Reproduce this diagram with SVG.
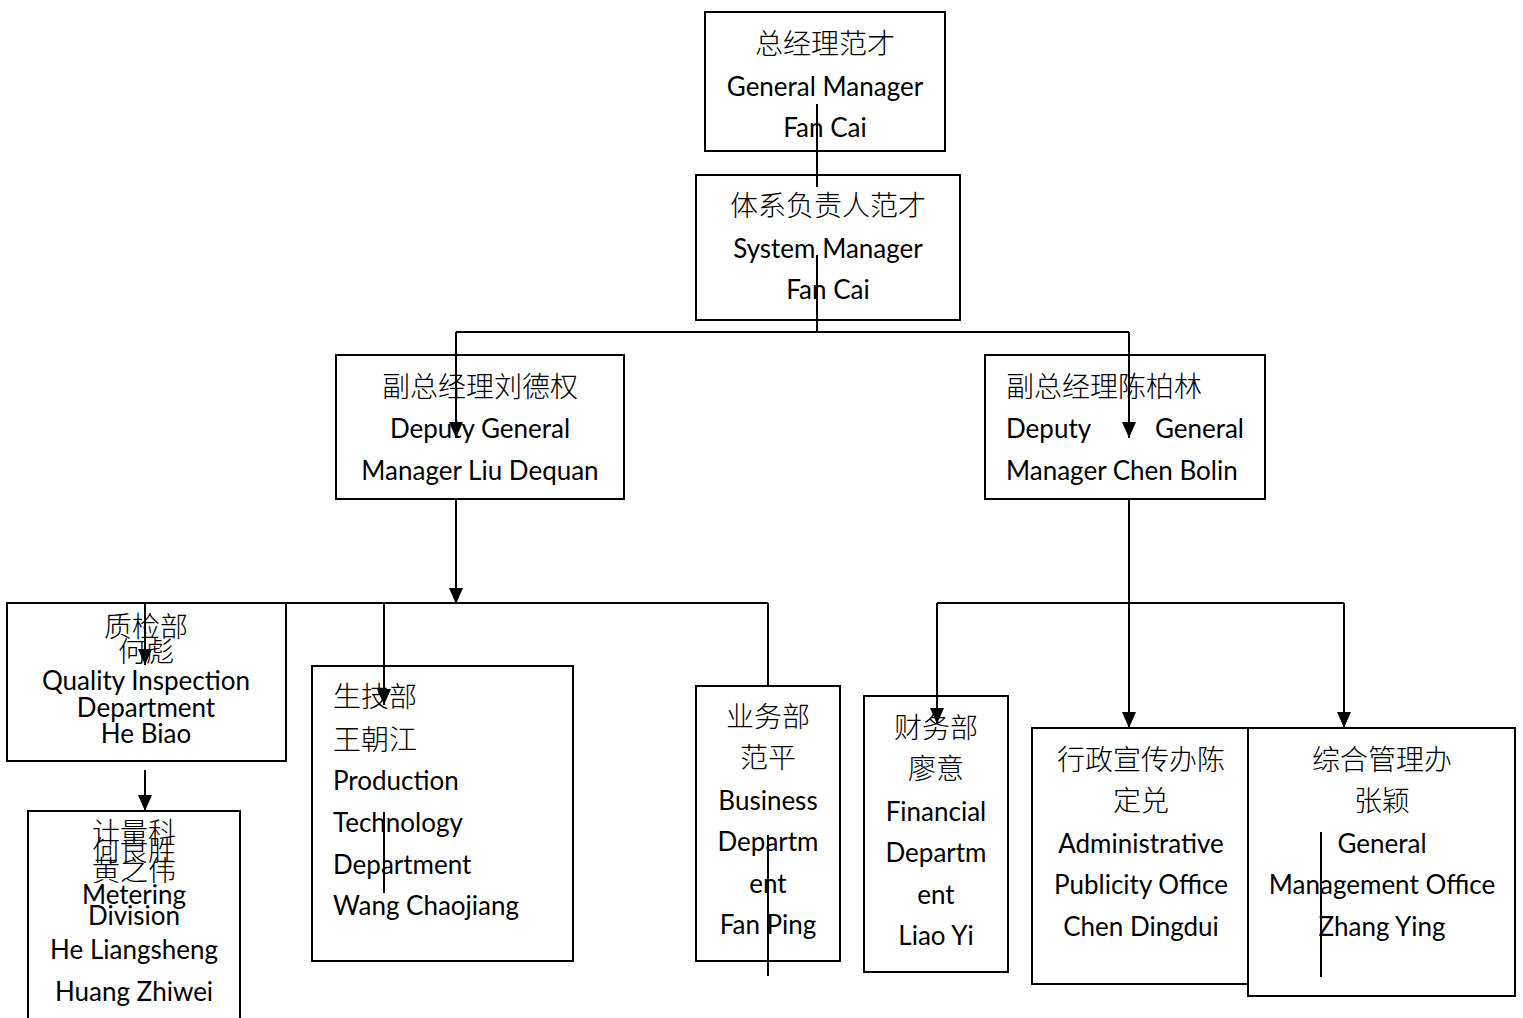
<svg xmlns="http://www.w3.org/2000/svg" width="1523" height="1018" viewBox="0 0 1523 1018">
<style>
rect.box{fill:#fff;stroke:#000;stroke-width:2}
text{font-family:Lato,"Noto Sans CJK SC",sans-serif;font-size:26px;fill:#000}
text.zh{font-family:"Noto Sans CJK SC",sans-serif;font-size:28px;font-weight:300}
text.c{text-anchor:middle}
.conn line{stroke:#000;stroke-width:2}
</style>
<defs>
<marker id="ah" markerUnits="userSpaceOnUse" markerWidth="16" markerHeight="14" refX="16" refY="7" orient="auto">
<path d="M0,0 L16,7 L0,14 z" fill="#000"/>
</marker>
</defs>
<rect width="1523" height="1018" fill="#fff"/>
<g id="gm">
<rect class="box" x="705" y="12" width="240" height="139"/>
<text class="zh c" x="825" y="54">总经理范才</text>
<text class="c" x="825" y="96">General Manager</text>
<text class="c" x="825" y="137">Fan Cai</text>
</g>
<g id="sys">
<rect class="box" x="696" y="175" width="264" height="145"/>
<text class="zh c" x="828" y="216">体系负责人范才</text>
<text class="c" x="828" y="258">System Manager</text>
<text class="c" x="828" y="299">Fan Cai</text>
</g>
<g id="dgm-liu">
<rect class="box" x="336" y="355" width="288" height="144"/>
<text class="zh c" x="480" y="397">副总经理刘德权</text>
<text class="c" x="480" y="438">Deputy General</text>
<text class="c" x="480" y="480">Manager Liu Dequan</text>
</g>
<g id="dgm-chen">
<rect class="box" x="985" y="355" width="280" height="144"/>
<text class="zh" x="1006" y="397">副总经理陈柏林</text>
<text y="438"><tspan x="1006">Deputy</tspan><tspan x="1244" text-anchor="end">General</tspan></text>
<text x="1006" y="480">Manager Chen Bolin</text>
</g>
<g id="quality">
<rect class="box" x="7" y="603" width="279" height="158"/>
<text class="zh c" x="146" y="637">质检部</text>
<text class="zh c" x="146" y="662">何彪</text>
<text class="c" x="146" y="690">Quality Inspection</text>
<text class="c" x="146" y="717">Department</text>
<text class="c" x="146" y="743">He Biao</text>
</g>
<g id="metering">
<rect class="box" x="28" y="811" width="212" height="230"/>
<text class="zh c" x="134" y="843">计量科</text>
<text class="zh c" x="134" y="861">何良胜</text>
<text class="zh c" x="134" y="881">黄之伟</text>
<text class="c" x="134" y="904">Metering</text>
<text class="c" x="134" y="925">Division</text>
<text class="c" x="134" y="959">He Liangsheng</text>
<text class="c" x="134" y="1001">Huang Zhiwei</text>
</g>
<g id="prodtech">
<rect class="box" x="312" y="666" width="261" height="295"/>
<text class="zh" x="333" y="707">生技部</text>
<text class="zh" x="333" y="750">王朝江</text>
<text x="333" y="790">Production</text>
<text x="333" y="832">Technology</text>
<text x="333" y="874">Department</text>
<text x="333" y="915">Wang Chaojiang</text>
</g>
<g id="business">
<rect class="box" x="696" y="686" width="144" height="275"/>
<text class="zh c" x="768" y="727">业务部</text>
<text class="zh c" x="768" y="768">范平</text>
<text class="c" x="768" y="810">Business</text>
<text class="c" x="768" y="851">Departm</text>
<text class="c" x="768" y="893">ent</text>
<text class="c" x="768" y="934">Fan Ping</text>
</g>
<g id="finance">
<rect class="box" x="864" y="696" width="144" height="276"/>
<text class="zh c" x="936" y="738">财务部</text>
<text class="zh c" x="936" y="779">廖意</text>
<text class="c" x="936" y="821">Financial</text>
<text class="c" x="936" y="862">Departm</text>
<text class="c" x="936" y="904">ent</text>
<text class="c" x="936" y="945">Liao Yi</text>
</g>
<g id="admin">
<rect class="box" x="1032" y="728" width="218" height="256"/>
<text class="zh c" x="1141" y="770">行政宣传办陈</text>
<text class="zh c" x="1141" y="811">定兑</text>
<text class="c" x="1141" y="853">Administrative</text>
<text class="c" x="1141" y="894">Publicity Office</text>
<text class="c" x="1141" y="936">Chen Dingdui</text>
</g>
<g id="genmgmt">
<rect class="box" x="1248" y="728" width="267" height="268"/>
<text class="zh c" x="1382" y="770">综合管理办</text>
<text class="zh c" x="1382" y="811">张颖</text>
<text class="c" x="1382" y="853">General</text>
<text class="c" x="1382" y="894">Management Office</text>
<text class="c" x="1382" y="936">Zhang Ying</text>
</g>
<g id="connectors" class="conn">
<line x1="817" y1="104" x2="817" y2="187"/>
<line x1="817" y1="255" x2="817" y2="332"/>
<line x1="456" y1="332" x2="1129" y2="332"/>
<line x1="456" y1="332" x2="456" y2="438" marker-end="url(#ah)"/>
<line x1="1129" y1="332" x2="1129" y2="438" marker-end="url(#ah)"/>
<line x1="456" y1="499" x2="456" y2="604" marker-end="url(#ah)"/>
<line x1="145" y1="603" x2="768" y2="603"/>
<line x1="145" y1="603" x2="145" y2="665" marker-end="url(#ah)"/>
<line x1="384" y1="603" x2="384" y2="705" marker-end="url(#ah)"/>
<line x1="768" y1="603" x2="768" y2="686"/>
<line x1="384" y1="812" x2="384" y2="893"/>
<line x1="768" y1="835" x2="768" y2="976"/>
<line x1="145" y1="770" x2="145" y2="811" marker-end="url(#ah)"/>
<line x1="1129" y1="499" x2="1129" y2="728" marker-end="url(#ah)"/>
<line x1="937" y1="603" x2="1344" y2="603"/>
<line x1="937" y1="603" x2="937" y2="724" marker-end="url(#ah)"/>
<line x1="1344" y1="603" x2="1344" y2="728" marker-end="url(#ah)"/>
<line x1="1321" y1="832" x2="1321" y2="977"/>
</g>
</svg>
